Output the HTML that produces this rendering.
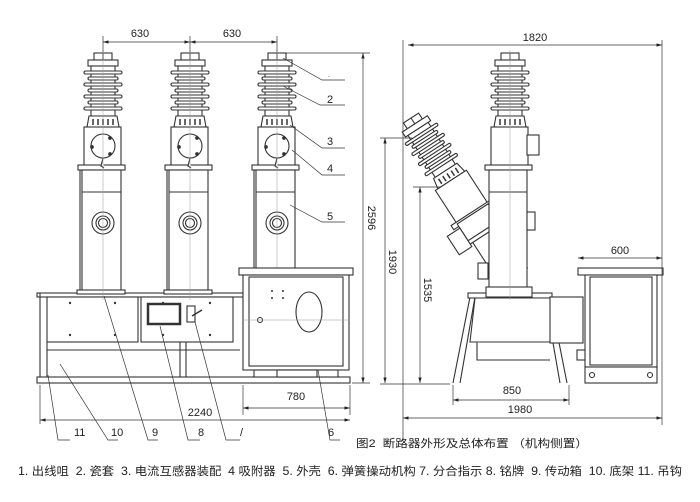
<!DOCTYPE html>
<html><head><meta charset="utf-8"><style>
html,body{margin:0;padding:0;background:#fff;}
svg{display:block;}
text{font-family:"Liberation Sans","Noto Sans CJK SC",sans-serif;fill:#222;}
</style></head><body>
<svg width="700" height="502" viewBox="0 0 700 502" xmlns="http://www.w3.org/2000/svg">
<defs>
<marker id="ar" viewBox="0 0 10 6" refX="10" refY="3" markerWidth="8" markerHeight="5" orient="auto-start-reverse"><path d="M0,0 L10,3 L0,6z" fill="#222"/></marker>
<g id="top" fill="#fff" stroke="#333" stroke-width="1.1">
  <rect x="-9" y="53" width="18" height="7"/>
  <line x1="0" y1="53" x2="0" y2="60"/>
  <rect x="-15" y="60" width="30" height="6"/>
  <rect x="-12" y="66" width="24" height="50"/>
  <rect x="-19" y="71" width="38" height="3" rx="1.5"/>
  <rect x="-15" y="77" width="30" height="3" rx="1.5"/>
  <rect x="-19" y="83" width="38" height="3" rx="1.5"/>
  <rect x="-15" y="89" width="30" height="3" rx="1.5"/>
  <rect x="-19" y="95" width="38" height="3" rx="1.5"/>
  <rect x="-15" y="101" width="30" height="3" rx="1.5"/>
  <rect x="-19" y="107" width="38" height="3" rx="1.5"/>
  <path d="M-14,116 L14,116 L16,127 L-16,127z"/>
  <path d="M-10,119v6M-5,119v6M0,119v6M5,119v6M10,119v6" stroke-width="1.5"/>
  <rect x="-19" y="127" width="37" height="40"/>
  <rect x="-25" y="165" width="47" height="5"/>
</g>
<g id="pole">
  <use href="#top"/>
  <g fill="#fff" stroke="#333" stroke-width="1.1">
  <circle cx="0" cy="146" r="12"/>
  <circle cx="7" cy="138" r="1.3" fill="#333"/><circle cx="7" cy="154" r="1.3" fill="#333"/><circle cx="-11" cy="147" r="1.3" fill="#333"/>
  <path d="M0,158 l-2,8 l3,2"/>
  <rect x="-21" y="170" width="39" height="121"/>
  <line x1="-23" y1="170" x2="-23" y2="292"/>
  <line x1="-21" y1="192" x2="18" y2="192"/>
  <circle cx="0" cy="223" r="11"/><circle cx="0" cy="223" r="7"/><circle cx="0" cy="223" r="4.5"/>
  <rect x="-26" y="290" width="48" height="4"/>
  </g>
  <line x1="0" y1="50" x2="0" y2="300" stroke="#999" stroke-width="0.5"/>
</g>
</defs>

<!-- LEFT VIEW -->
<g fill="#fff" stroke="#333" stroke-width="1.1">
  <rect x="37" y="293" width="206" height="4"/>
  <rect x="47" y="297" width="91" height="45"/>
  <rect x="141" y="297" width="92" height="45"/>
  <line x1="40" y1="293" x2="40" y2="383"/>
  <line x1="47" y1="342" x2="47" y2="383"/>
  <rect x="37" y="377" width="313" height="6"/>
  <line x1="47" y1="350" x2="240" y2="350"/>
  <line x1="180" y1="342" x2="180" y2="377"/><line x1="186" y1="342" x2="186" y2="377"/>
  <rect x="148" y="304" width="32" height="20" stroke-width="2.5"/>
  <rect x="187" y="306" width="8" height="16"/>
  <path d="M192,316 l10,-6" stroke-width="1.5"/>
</g>
<g fill="#333"><circle cx="70" cy="303" r="1.2"/><circle cx="115" cy="303" r="1.2"/><circle cx="70" cy="335" r="1.2"/><circle cx="115" cy="335" r="1.2"/><circle cx="163" cy="303" r="1.2"/><circle cx="210" cy="303" r="1.2"/><circle cx="163" cy="335" r="1.2"/><circle cx="210" cy="335" r="1.2"/></g>
<use href="#pole" x="103"/>
<use href="#pole" x="190"/>
<use href="#pole" x="277"/>
<g fill="#fff" stroke="#333" stroke-width="1.1">
  <rect x="239" y="268" width="114" height="7"/>
  <rect x="243" y="275" width="106" height="95"/>
  <rect x="249" y="277" width="94" height="89"/>
  <rect x="254" y="370" width="84" height="7"/>
  <rect x="277" y="370" width="40" height="7"/>
  <ellipse cx="309" cy="312" rx="13" ry="20"/>
  <circle cx="260" cy="320" r="2.5"/>
</g>
<line x1="243" y1="320" x2="349" y2="320" stroke="#999" stroke-width="0.5"/>
<g fill="#333"><circle cx="272" cy="291" r="1"/><circle cx="283" cy="291" r="1"/><circle cx="272" cy="298" r="1"/><circle cx="283" cy="298" r="1"/></g>

<g stroke="#333" stroke-width="0.7" fill="none">
  <line x1="103" y1="42" x2="190" y2="42" marker-start="url(#ar)" marker-end="url(#ar)"/>
  <line x1="190" y1="42" x2="277" y2="42" marker-start="url(#ar)" marker-end="url(#ar)"/>
  <line x1="103" y1="36" x2="103" y2="52"/><line x1="190" y1="36" x2="190" y2="52"/><line x1="277" y1="36" x2="277" y2="52"/>
  <line x1="285" y1="53" x2="370" y2="53"/>
  <line x1="352" y1="383" x2="370" y2="383"/>
  <line x1="363" y1="53" x2="363" y2="383" marker-start="url(#ar)" marker-end="url(#ar)"/>
  <line x1="243" y1="408" x2="350" y2="408" marker-start="url(#ar)" marker-end="url(#ar)"/>
  <line x1="243" y1="385" x2="243" y2="415"/><line x1="350" y1="385" x2="350" y2="415"/>
  <line x1="40" y1="420" x2="350" y2="420" marker-start="url(#ar)" marker-end="url(#ar)"/>
  <line x1="40" y1="385" x2="40" y2="424"/>
  <path d="M283,58 L322,80 H345"/>
  <path d="M283,86 L320,105 H345"/>
  <path d="M290,125 L322,148 H345"/>
  <path d="M292,150 L322,175 H345"/>
  <path d="M290,205 L322,222 H345"/>
  <path d="M48,375 L58,440 H70"/>
  <path d="M60,364 L108,440 H118"/>
  <path d="M104,296 L148,440 H158"/>
  <path d="M160,326 L188,440 H200"/>
  <path d="M195,322 L226,440 H240"/>
  <path d="M318,370 L330,440 H340"/>
</g>
<g font-size="11">
  <text x="140" y="37" text-anchor="middle">630</text>
  <text x="232" y="37" text-anchor="middle">630</text>
  <text x="328" y="77" font-size="7">.</text>
  <text x="327" y="103">2</text>
  <text x="327" y="145">3</text>
  <text x="327" y="172">4</text>
  <text x="327" y="220">5</text>
  <text x="296" y="400" text-anchor="middle">780</text>
  <text x="200" y="416" text-anchor="middle">2240</text>
  <text x="74" y="436">11</text>
  <text x="111" y="436">10</text>
  <text x="152" y="436">9</text>
  <text x="198" y="436">8</text>
  <text x="240" y="436">/</text>
  <text x="328" y="436">6</text>
  <text transform="translate(368,218) rotate(90)" text-anchor="middle">2596</text>
</g>

<!-- RIGHT VIEW -->
<g fill="#fff" stroke="#333" stroke-width="1.1">
  <path d="M470,297 L453,383 M475,297 L460,383 M550,297 L567,383 M545,297 L560,383"/>
  <rect x="468" y="293" width="84" height="5"/>
  <path d="M475,298 L550,298 L555,342 L470,342z"/>
  <path d="M477,342 L477,360 L550,360"/>
  <rect x="550" y="297" width="33" height="46"/>
  <g transform="translate(411,118) rotate(-33) translate(0,-53)">
    <rect x="-16" y="167" width="32" height="75"/>
    <use href="#top"/>
    <rect x="-19" y="167" width="37" height="22"/>
    <rect x="-24" y="187" width="48" height="4"/>
    <rect x="-34" y="172" width="15" height="22"/>
  </g>
</g>
<g fill="#fff" stroke="#333" stroke-width="1.1">
  <use href="#top" x="510"/>
  <rect x="489" y="170" width="38" height="118"/>
  <line x1="489" y1="192" x2="527" y2="192"/>
  <rect x="486" y="287" width="46" height="10"/>
  <rect x="527" y="135" width="12" height="20"/>
  <rect x="527" y="212" width="8" height="18"/>
  <rect x="478" y="263" width="10" height="16"/>
  <line x1="510" y1="50" x2="510" y2="300" stroke="#999" stroke-width="0.5"/>
  <rect x="578" y="268" width="85" height="7"/>
  <rect x="585" y="275" width="72" height="92"/>
  <rect x="590" y="277" width="62" height="88"/>
  <rect x="585" y="367" width="72" height="16"/>
  <circle cx="592" cy="375" r="2.5"/><circle cx="650" cy="375" r="2.5"/>
  <rect x="577" y="350" width="8" height="10"/>
</g>
<g stroke="#333" stroke-width="0.7" fill="none">
  <line x1="408" y1="45" x2="662" y2="45" marker-start="url(#ar)" marker-end="url(#ar)"/>
  <line x1="403" y1="40" x2="403" y2="440"/><line x1="662" y1="40" x2="662" y2="425"/>
  <line x1="385" y1="138" x2="385" y2="383" marker-start="url(#ar)" marker-end="url(#ar)"/>
  <line x1="380" y1="138" x2="412" y2="138"/>
  <line x1="380" y1="384" x2="450" y2="384"/>
  <line x1="420" y1="187" x2="420" y2="383" marker-start="url(#ar)" marker-end="url(#ar)"/>
  <line x1="413" y1="187" x2="440" y2="187"/>
  <line x1="578" y1="258" x2="662" y2="258" marker-start="url(#ar)" marker-end="url(#ar)"/>
  <line x1="453" y1="400" x2="569" y2="400" marker-start="url(#ar)" marker-end="url(#ar)"/>
  <line x1="453" y1="385" x2="453" y2="405"/><line x1="569" y1="385" x2="569" y2="405"/>
  <line x1="403" y1="418" x2="662" y2="418" marker-start="url(#ar)" marker-end="url(#ar)"/>
</g>
<g font-size="11">
  <text x="535" y="41" text-anchor="middle">1820</text>
  <text x="620" y="254" text-anchor="middle">600</text>
  <text x="512" y="394" text-anchor="middle">850</text>
  <text x="520" y="413" text-anchor="middle">1980</text>
  <text transform="translate(389,262) rotate(90)" text-anchor="middle">1930</text>
  <text transform="translate(424,290) rotate(90)" text-anchor="middle">1535</text>
</g>

<text x="356" y="447" font-size="11" textLength="232" lengthAdjust="spacingAndGlyphs">图2 &#160;断路器外形及总体布置 （机构侧置）</text>
<text x="18" y="475" font-size="11.5" textLength="664" lengthAdjust="spacingAndGlyphs">1. 出线咀 &#160;2. 瓷套 &#160;3. 电流互感器装配 &#160;4 吸附器 &#160;5. 外壳 &#160;6. 弹簧操动机构 7. 分合指示 8. 铭牌 &#160;9. 传动箱 &#160;10. 底架 11. 吊钩</text>
</svg>
</body></html>
